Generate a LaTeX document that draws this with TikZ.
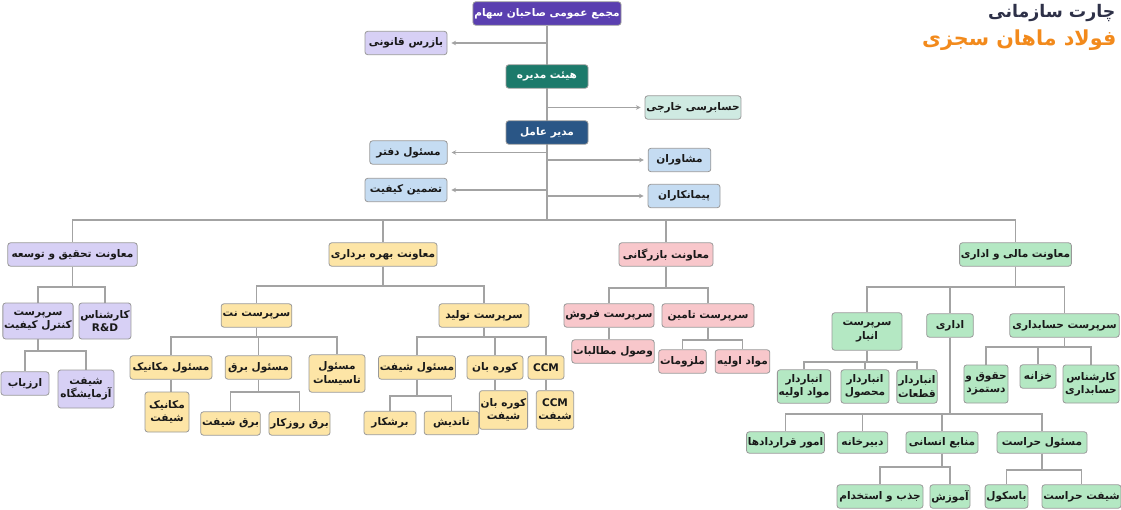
\documentclass[tikz,border=0pt]{standalone}
\usepackage{fontspec}
\newfontfamily\arabicfont[Script=Arabic]{DejaVu Sans}
\TeXXeTstate=1
\usetikzlibrary{arrows.meta,backgrounds}
\newcommand\fa[1]{\beginR #1\endR}
\definecolor{dpurple}{HTML}{5A3FB0}
\definecolor{lpurple}{HTML}{D7D0F5}
\definecolor{dteal}{HTML}{1C7A6B}
\definecolor{lteal}{HTML}{CFEAE2}
\definecolor{dblue}{HTML}{2A5686}
\definecolor{lblue}{HTML}{C5DCF2}
\definecolor{lyellow}{HTML}{FDE5A6}
\definecolor{lpink}{HTML}{F8C7CB}
\definecolor{lgreen}{HTML}{B4E8C3}
\definecolor{edge}{HTML}{A3A3A3}
\definecolor{navy}{HTML}{2E3148}
\definecolor{orangeT}{HTML}{F28A1C}
\tikzset{
    box/.style={
        draw=black!40,
        line width=0.6pt,
        rectangle,
        rounded corners=2pt,
        minimum height=17.5pt,
        inner sep=1pt,
        align=center,
        text=black!90,
        font=\arabicfont\bfseries\fontsize{7.9}{10}\selectfont
    },
    dark/.style={box, text=white},
    conn/.style={draw=edge, line width=0.9pt},
    arr/.style={conn, -{Stealth[length=3.5pt,width=3.5pt]}, shorten >=3pt},
}
\begin{document}
\begin{tikzpicture}[x=0.75pt, y=-0.75pt]
    \useasboundingbox (0,0) rectangle (1121,510);
    % title
    \node[anchor=east, text=navy, font=\arabicfont\bfseries\fontsize{13}{15}\selectfont] (title) at (1120,13) {\fa{چارت سازمانی}};
    \node[anchor=east, text=orangeT, font=\arabicfont\bfseries\fontsize{15.5}{18}\selectfont] (company) at (1121,40) {\fa{فولاد ماهان سجزی}};

    % board and staff
    \node[dark, fill=dpurple, minimum width=109.5pt] (assembly) at (547,13.5) {\fa{مجمع عمومی صاحبان سهام}};
    \node[box, fill=lpurple, minimum width=61.5pt] (inspector) at (406,43) {\fa{بازرس قانونی}};
    \node[dark, fill=dteal, minimum width=61.5pt] (board) at (547,76.5) {\fa{هیئت مدیره}};
    \node[box, fill=lteal, minimum width=67.5pt] (audit) at (693,107.5) {\fa{حسابرسی خارجی}};
    \node[dark, fill=dblue, minimum width=61.5pt] (ceo) at (547,132.5) {\fa{مدیر عامل}};
    \node[box, fill=lblue, minimum width=58pt] (office) at (408.5,152.5) {\fa{مسئول دفتر}};
    \node[box, fill=lblue, minimum width=47pt] (advisors) at (679.5,160) {\fa{مشاوران}};
    \node[box, fill=lblue, minimum width=61.5pt] (quality) at (406,190) {\fa{تضمین کیفیت}};
    \node[box, fill=lblue, minimum width=54pt] (contractors) at (684,196) {\fa{پیمانکاران}};

    % deputies
    \node[box, fill=lpurple, minimum width=97pt] (rdvp) at (72.5,254.5) {\fa{معاونت تحقیق و توسعه}};
    \node[box, fill=lyellow, minimum width=81pt] (opvp) at (383,254.5) {\fa{معاونت بهره برداری}};
    \node[box, fill=lpink, minimum width=70.5pt] (comvp) at (666,254.5) {\fa{معاونت بازرگانی}};
    \node[box, fill=lgreen, minimum width=83pt] (finvp) at (1015.5,254.5) {\fa{معاونت مالی و اداری}};

    % research
    \node[box, fill=lpurple, minimum width=51pt, minimum height=27pt] (qc) at (38,321) {\fa{سرپرست}\\\fa{کنترل کیفیت}};
    \node[box, fill=lpurple, minimum width=37pt, minimum height=27pt] (rdexp) at (105,321) {\fa{کارشناس}\\R\&D};
    \node[box, fill=lpurple, minimum width=36pt] (assessor) at (25,383.5) {\fa{ارزیاب}};
    \node[box, fill=lpurple, minimum width=42pt, minimum height=28.5pt] (labshift) at (86,389) {\fa{شیفت}\\\fa{آزمایشگاه}};

    % operations
    \node[box, fill=lyellow, minimum width=53pt] (maint) at (256.5,315.5) {\fa{سرپرست نت}};
    \node[box, fill=lyellow, minimum width=67.5pt] (prod) at (484,315.5) {\fa{سرپرست تولید}};
    \node[box, fill=lyellow, minimum width=61.5pt] (mech) at (171,367.5) {\fa{مسئول مکانیک}};
    \node[box, fill=lyellow, minimum width=50pt] (elec) at (258.5,367.5) {\fa{مسئول برق}};
    \node[box, fill=lyellow, minimum width=42pt, minimum height=28pt] (facil) at (337,373.5) {\fa{مسئول}\\\fa{تاسیسات}};
    \node[box, fill=lyellow, minimum width=33pt, minimum height=30pt] (mechshift) at (167,412) {\fa{مکانیک}\\\fa{شیفت}};
    \node[box, fill=lyellow, minimum width=44pt] (elecshift) at (230.5,423.5) {\fa{برق شیفت}};
    \node[box, fill=lyellow, minimum width=43pt] (elecday) at (299.5,423.5) {\fa{برق روزکار}};
    \node[box, fill=lyellow, minimum width=57pt] (shifthead) at (417,367.5) {\fa{مسئول شیفت}};
    \node[box, fill=lyellow, minimum width=42pt] (furnace) at (495,367.5) {\fa{کوره بان}};
    \node[box, fill=lyellow, minimum width=27pt] (ccm) at (546,367.5) {CCM};
    \node[box, fill=lyellow, minimum width=39pt] (cutter) at (390,423) {\fa{برشکار}};
    \node[box, fill=lyellow, minimum width=41pt] (tundish) at (451.5,423) {\fa{تاندیش}};
    \node[box, fill=lyellow, minimum width=29pt, minimum height=29pt] (furnshift) at (503.5,410) {\fa{کوره بان}\\\fa{شیفت}};
    \node[box, fill=lyellow, minimum width=28pt, minimum height=29pt] (ccmshift) at (555,410) {CCM\\\fa{شیفت}};

    % commerce
    \node[box, fill=lpink, minimum width=67.5pt] (sales) at (609,315.5) {\fa{سرپرست فروش}};
    \node[box, fill=lpink, minimum width=69pt] (supply) at (708,315.5) {\fa{سرپرست تامین}};
    \node[box, fill=lpink, minimum width=57pt] (claims) at (613,351.5) {\fa{وصول مطالبات}};
    \node[box, fill=lpink, minimum width=32pt] (supplies) at (682.5,361.5) {\fa{ملزومات}};
    \node[box, fill=lpink, minimum width=41pt] (rawmat) at (742.5,361.5) {\fa{مواد اولیه}};

    % finance
    \node[box, fill=lgreen, minimum width=52.5pt, minimum height=28pt] (store) at (867,331.5) {\fa{سرپرست}\\\fa{انبار}};
    \node[box, fill=lgreen, minimum width=35pt] (admin) at (950,325.5) {\fa{اداری}};
    \node[box, fill=lgreen, minimum width=82pt] (account) at (1064.5,325.5) {\fa{سرپرست حسابداری}};
    \node[box, fill=lgreen, minimum width=39pt, minimum height=25pt] (storeraw) at (804,386.5) {\fa{انباردار}\\\fa{مواد اولیه}};
    \node[box, fill=lgreen, minimum width=36pt, minimum height=25pt] (storeprod) at (865,386.5) {\fa{انباردار}\\\fa{محصول}};
    \node[box, fill=lgreen, minimum width=28.5pt, minimum height=25pt] (storeparts) at (917,386.5) {\fa{انباردار}\\\fa{قطعات}};
    \node[box, fill=lgreen, minimum width=33pt, minimum height=28.5pt] (payroll) at (986,384) {\fa{حقوق و}\\\fa{دستمزد}};
    \node[box, fill=lgreen, minimum width=27pt] (treasury) at (1038,376.5) {\fa{خزانه}};
    \node[box, fill=lgreen, minimum width=42pt, minimum height=28.5pt] (accexp) at (1091,384) {\fa{کارشناس}\\\fa{حسابداری}};
    \node[box, fill=lgreen, minimum width=56pt, minimum height=16pt] (contracts) at (785.5,442.5) {\fa{امور قراردادها}};
    \node[box, fill=lgreen, minimum width=38pt, minimum height=16pt] (secretariat) at (862.5,442.5) {\fa{دبیرخانه}};
    \node[box, fill=lgreen, minimum width=54pt, minimum height=16pt] (hr) at (942,442.5) {\fa{منابع انسانی}};
    \node[box, fill=lgreen, minimum width=67.5pt, minimum height=16pt] (security) at (1042,442.5) {\fa{مسئول حراست}};
    \node[box, fill=lgreen, minimum width=64.5pt] (recruit) at (880,496.5) {\fa{جذب و استخدام}};
    \node[box, fill=lgreen, minimum width=30pt] (training) at (950,496.5) {\fa{آموزش}};
    \node[box, fill=lgreen, minimum width=32pt] (scale) at (1006.5,496.5) {\fa{باسکول}};
    \node[box, fill=lgreen, minimum width=58pt] (secshift) at (1081.5,496.5) {\fa{شیفت حراست}};

    % lines
    \begin{scope}[on background layer]
    \draw[conn] (assembly.south) -- (assembly.south |- 0,220);
    \foreach \c in {rdvp,opvp,comvp,finvp}
        \draw[conn] (assembly.south |- 0,220) -| (\c.north);
    \draw[arr] (assembly.south |- inspector) -- (inspector.east);
    \draw[arr] (assembly.south |- office) -- (office.east);
    \draw[arr] (assembly.south |- quality) -- (quality.east);
    \draw[arr] (assembly.south |- audit) -- (audit.west);
    \draw[arr] (assembly.south |- advisors) -- (advisors.west);
    \draw[arr] (assembly.south |- contractors) -- (contractors.west);
    \foreach \p/\y/\cs in {rdvp/287/{qc,rdexp}, qc/351/{assessor,labshift},
        opvp/286/{maint,prod}, maint/337/{mech,elec,facil}, elec/392/{elecshift,elecday},
        prod/337/{shifthead,furnace,ccm}, shifthead/396/{cutter,tundish},
        comvp/288/{sales,supply}, supply/340/{supplies,rawmat},
        finvp/287/{store,admin,account}, store/362/{storeraw,storeprod,storeparts},
        account/347/{payroll,treasury,accexp}, admin/414/{contracts,secretariat,hr,security},
        hr/467/{recruit,training}, security/470/{scale,secshift}}
        \foreach \c in \cs
            \draw[conn] (\p.south) -- (\p.south |- 0,\y) -| (\c.north);
    \foreach \p/\c in {mech/mechshift, furnace/furnshift, ccm/ccmshift, sales/claims}
        \draw[conn] (\p.south) -- (\p.south |- \c.north);
    \end{scope}
\end{tikzpicture}
\end{document}
